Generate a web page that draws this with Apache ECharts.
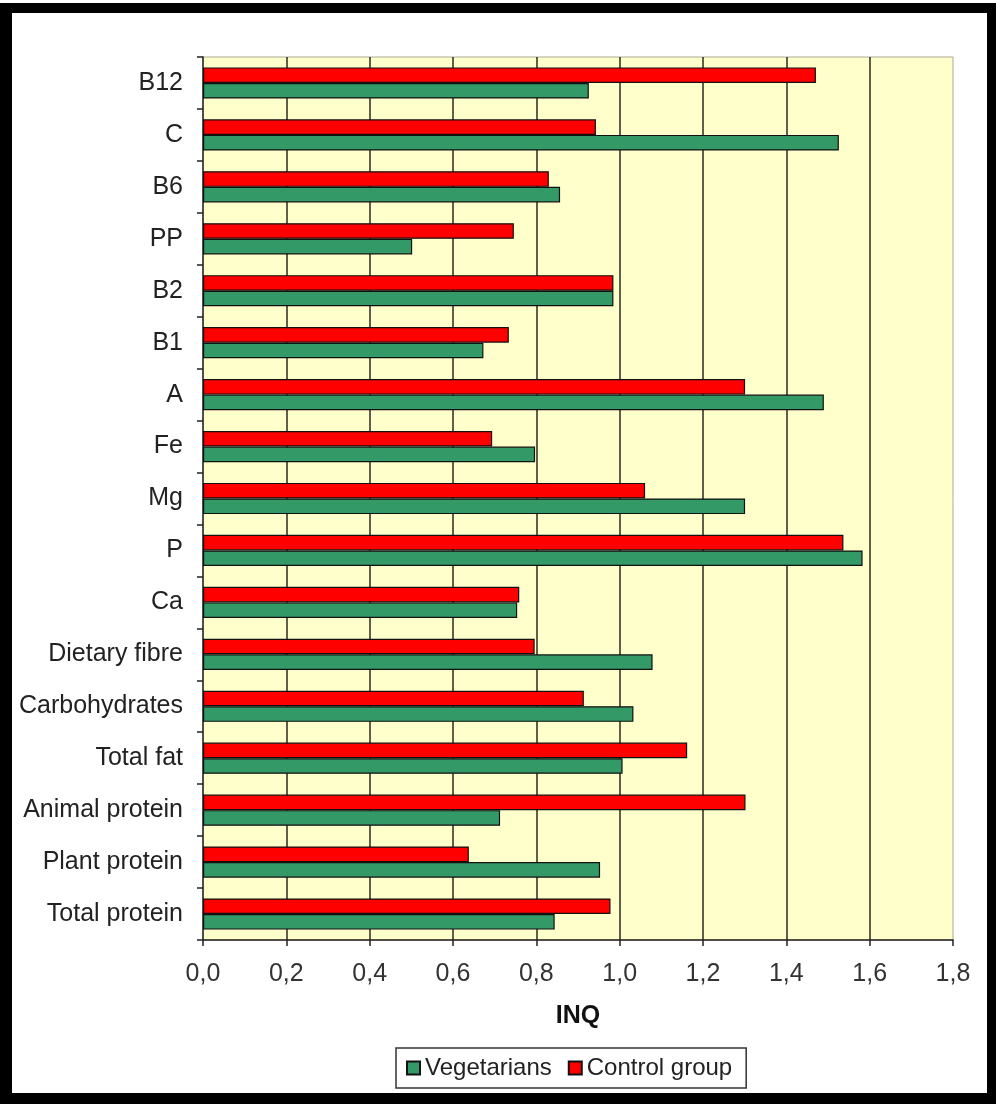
<!DOCTYPE html>
<html>
<head>
<meta charset="utf-8">
<title>INQ - Vegetarians vs Control group</title>
<script src="https://cdn.jsdelivr.net/npm/echarts@6/dist/echarts.min.js"></script>
<style>
    html, body { margin: 0; padding: 0; background: #fff; }
    .frame {
        position: absolute; left: 0; top: 3px; width: 996px; height: 1101px;
        box-sizing: border-box; border: solid #000;
        border-width: 10px 9px 11px 12px;
    }
    #chart { position: absolute; left: 0; top: 0; width: 996px; height: 1104px; }
</style>
</head>
<body>
<div class="frame"></div>
<div id="chart"></div>
<script>
// categories, bottom to top (as ECharts lays out a y category axis)
const categories = [
    'Total protein', 'Plant protein', 'Animal protein', 'Total fat', 'Carbohydrates',
    'Dietary fibre', 'Ca', 'P', 'Mg', 'Fe', 'A', 'B1', 'B2', 'PP', 'B6', 'C', 'B12'
];
const vegetarians = [
    0.844, 0.953, 0.713, 1.007, 1.033,
    1.079, 0.754, 1.583, 1.301, 0.797, 1.490, 0.673, 0.985, 0.502, 0.857, 1.526, 0.926
];
const controlGroup = [
    0.978, 0.638, 1.302, 1.162, 0.914,
    0.796, 0.759, 1.537, 1.061, 0.694, 1.301, 0.734, 0.985, 0.746, 0.830, 0.943, 1.471
];
const tickLabels = ['0,0', '0,2', '0,4', '0,6', '0,8', '1,0', '1,2', '1,4', '1,6', '1,8'];

const fontFamily = 'Arial, "Liberation Sans", sans-serif';

const chart = echarts.init(document.getElementById('chart'));

const option = {
    backgroundColor: 'transparent',
    animation: false,
    textStyle: { fontFamily: fontFamily },
    grid: {
        left: 203,
        top: 57,
        width: 750,
        height: 883,
        show: true,
        backgroundColor: '#FFFFCC',
        borderColor: '#a8a890',
        borderWidth: 1
    },
    legend: {
        // legend lists Vegetarians first, bars draw Control group on top
        data: ['Vegetarians', 'Control group'],
        left: 396,
        top: 1048,
        padding: [8, 14, 8, 10],
        itemGap: 16,
        itemWidth: 13,
        itemHeight: 13,
        icon: 'rect',
        borderColor: '#333',
        borderWidth: 1.5,
        textStyle: { fontSize: 24, color: '#222', fontFamily: fontFamily }
    },
    xAxis: {
        type: 'value',
        min: 0,
        max: 1.8,
        interval: 0.2,
        name: 'INQ',
        nameLocation: 'middle',
        nameGap: 64,
        nameTextStyle: { fontSize: 25, fontWeight: 'bold', color: '#111' },
        axisLine: { show: true, lineStyle: { color: '#222', width: 1.5 } },
        axisTick: { show: true, length: 6, lineStyle: { color: '#222', width: 1.5 } },
        axisLabel: {
            margin: 22,
            fontSize: 25,
            color: '#333',
            formatter: (value, index) => tickLabels[index]
        },
        splitLine: {
            show: true,
            showMinLine: false,
            showMaxLine: false,
            lineStyle: { color: '#2a2a20', width: 1.5 }
        }
    },
    yAxis: {
        type: 'category',
        data: categories,
        axisLine: { show: true, lineStyle: { color: '#222', width: 1.5 } },
        axisTick: { show: true, length: 6, lineStyle: { color: '#222', width: 1.5 } },
        axisLabel: { margin: 20, fontSize: 25, color: '#222' },
        splitLine: { show: false }
    },
    series: [
        {
            name: 'Control group',
            type: 'bar',
            data: controlGroup,
            barGap: '0%',
            barCategoryGap: '40%',
            itemStyle: { color: '#FF0000', borderColor: '#111', borderWidth: 1.2 }
        },
        {
            name: 'Vegetarians',
            type: 'bar',
            data: vegetarians,
            barGap: '0%',
            barCategoryGap: '40%',
            itemStyle: { color: '#339966', borderColor: '#111', borderWidth: 1.2 }
        }
    ]
};

chart.setOption(option);
</script>
</body>
</html>
